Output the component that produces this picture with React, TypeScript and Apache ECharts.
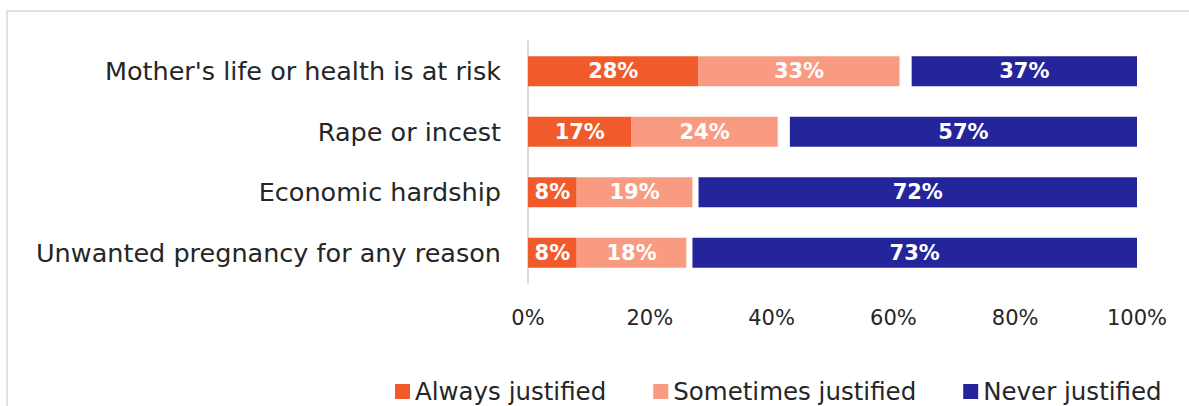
import React, { useEffect, useRef } from "react";
import * as echarts from "echarts";

const categories = [
  "Mother's life or health is at risk",
  "Rape or incest",
  "Economic hardship",
  "Unwanted pregnancy for any reason",
];
const alwaysJustified = [28, 17, 8, 8];
const sometimesJustified = [33, 24, 19, 18];
const noAnswer = [2, 2, 1, 1];
const neverJustified = [37, 57, 72, 73];
const xTicks = [0, 20, 40, 60, 80, 100];

const FONT = "DejaVu Sans";

export default function App() {
  const ref = useRef<HTMLDivElement>(null);
  useEffect(() => {
    if (!ref.current) return;
    const chart = echarts.init(ref.current, null, { renderer: "svg" });
    const labelStyle = {
      show: true,
      position: "inside" as const,
      color: "#ffffff",
      fontWeight: "bold" as const,
      fontSize: 21,
      fontFamily: FONT,
      formatter: (p: any) => `${p.value}%`,
    };
    chart.setOption({
      animation: false,
      graphic: [
        {
          type: "rect",
          shape: { x: 7, y: 11, width: 1300, height: 500 },
          style: { fill: "none", stroke: "#e2e2e2", lineWidth: 2 },
          silent: true,
        },
      ],
      grid: { left: 528, right: 52, top: 41, bottom: 123, containLabel: false },
      xAxis: {
        type: "value",
        min: xTicks[0],
        max: xTicks[xTicks.length - 1],
        interval: 20,
        axisLine: { show: false },
        axisTick: { show: false },
        splitLine: { show: false },
        axisLabel: {
          formatter: (v: number) => `${v}%`,
          color: "#262626",
          fontSize: 21,
          fontFamily: FONT,
          margin: 24,
        },
      },
      yAxis: {
        type: "category",
        data: categories,
        inverse: true,
        axisLine: { show: true, lineStyle: { color: "#d9d9d9", width: 2 } },
        axisTick: { show: false },
        axisLabel: {
          color: "#262626",
          fontSize: 25.5,
          fontFamily: FONT,
          margin: 27,
        },
      },
      legend: {
        data: ["Always justified", "Sometimes justified", "Never justified"],
        top: 379,
        left: 395,
        padding: 0,
        itemWidth: 15,
        itemHeight: 15,
        itemGap: 47,
        icon: "rect",
        textStyle: {
          fontSize: 24.5,
          lineHeight: 24,
          color: "#262626",
          fontFamily: FONT,
        },
      },
      series: [
        {
          name: "Always justified",
          type: "bar",
          stack: "t",
          barWidth: 30,
          data: alwaysJustified,
          itemStyle: { color: "#F15A2B" },
          label: labelStyle,
        },
        {
          name: "Sometimes justified",
          type: "bar",
          stack: "t",
          data: sometimesJustified,
          itemStyle: { color: "#F89B80" },
          label: labelStyle,
        },
        {
          name: "No answer",
          type: "bar",
          stack: "t",
          data: noAnswer,
          itemStyle: { color: "transparent" },
          label: { show: false },
          silent: true,
        },
        {
          name: "Never justified",
          type: "bar",
          stack: "t",
          data: neverJustified,
          itemStyle: { color: "#25259B" },
          label: labelStyle,
        },
      ],
    });
    return () => chart.dispose();
  }, []);
  return (
    <div
      ref={ref}
      style={{ position: "fixed", left: 0, top: 0, width: 1189, height: 406, background: "#fff" }}
    />
  );
}
